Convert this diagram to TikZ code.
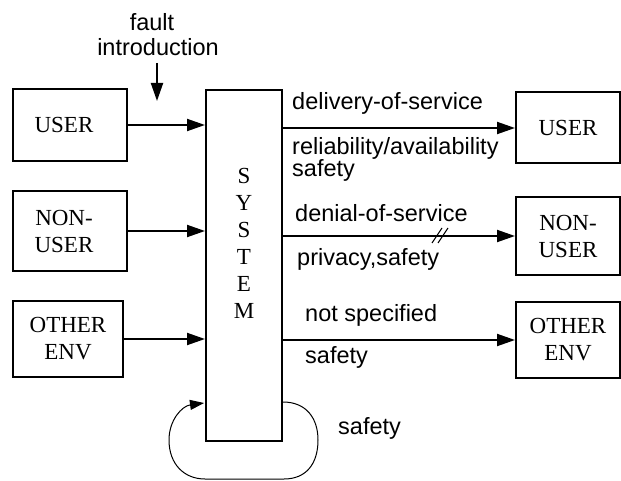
\documentclass[tikz,border=0pt]{standalone}
\usepackage{fontspec}
\setmainfont{Liberation Serif}
\setsansfont{Liberation Sans}
\usetikzlibrary{arrows.meta}
\begin{document}
\begin{tikzpicture}[x=1pt,y=-1pt,
  box/.style={draw,line width=2pt,rectangle,inner sep=0pt,align=center,
    font=\fontsize{23}{27}\selectfont},
  arr/.style={line width=2pt,-{Triangle[length=18pt,width=12pt]}},
  lab/.style={anchor=west,inner sep=0pt,font=\sffamily\fontsize{23.5}{26}\selectfont}]
\useasboundingbox (0,0) rectangle (621,481);
% left boxes
\node[box,minimum width=114pt,minimum height=72pt] (uL) at (70,125) {USER\hspace*{12pt}};
\node[box,minimum width=114pt,minimum height=79pt] (nL) at (70,231) {NON-\hspace*{12pt}\\USER\hspace*{12pt}};
\node[box,minimum width=110pt,minimum height=76pt] (oL) at (68,339) {OTHER\\ENV};
% system
\node[box,minimum width=76pt,minimum height=351pt] (sys) at (244,265.5) {};
\node[font=\fontsize{23}{27}\selectfont,align=center,inner sep=0pt] (sysl) at (244,243) {S\\Y\\S\\T\\E\\M};
% right boxes
\node[box,minimum width=104pt,minimum height=71pt] (uR) at (568,128) {USER};
\node[box,minimum width=104pt,minimum height=78pt] (nR) at (568,236) {NON-\\USER};
\node[box,minimum width=104pt,minimum height=76pt] (oR) at (568,340) {OTHER\\ENV};
% input arrows
\draw[arr] (uL.east) -- (uL.east -| sys.west);
\draw[arr] (nL.east) -- (nL.east -| sys.west);
\draw[arr] (oL.east) -- (oL.east -| sys.west);
% output arrows
\draw[arr] (sys.east |- uR.west) -- (uR.west);
\draw[arr] (sys.east |- nR.west) -- (nR.west);
\draw[arr] (sys.east |- oR.west) -- (oR.west);
% fault introduction
\node[font=\sffamily\fontsize{23.5}{26}\selectfont,inner sep=0pt] (f1) at (152,22) {fault};
\node[font=\sffamily\fontsize{23.5}{26}\selectfont,inner sep=0pt] (f2) at (158,47) {introduction};
\coordinate (fa) at (157,63);
\coordinate (fb) at (157,101);
\draw[arr] (fa) -- (fb);
% labels
\node[lab] (l1) at (292,103) {delivery-of-service};
\node[lab] (l2) at (292,148) {reliability/availability};
\node[lab] (l3) at (292,170) {safety};
\node[lab] (l4) at (295,213) {denial-of-service};
\node[lab] (l5) at (297,259) {privacy,safety};
\node[lab] (l6) at (305,315) {not specified};
\node[lab] (l7) at (305,357) {safety};
\node[lab] (l8) at (338,428) {safety};
% double slash
\draw[line width=1pt] (432,243) -- (442,228) (438,243) -- (448,228);
% loop
\coordinate (ls) at (283,402);
\coordinate (le) at (204,403);
\draw[line width=1pt,-{Triangle[length=14pt,width=10pt]}] (ls)
  .. controls (306,402) and (318,418) .. (318,440)
  .. controls (318,464) and (306,479) .. (284,479)
  -- (205,479)
  .. controls (184,479) and (169,464) .. (169,440)
  .. controls (169,420) and (182,406) .. (le);
\end{tikzpicture}
\end{document}
